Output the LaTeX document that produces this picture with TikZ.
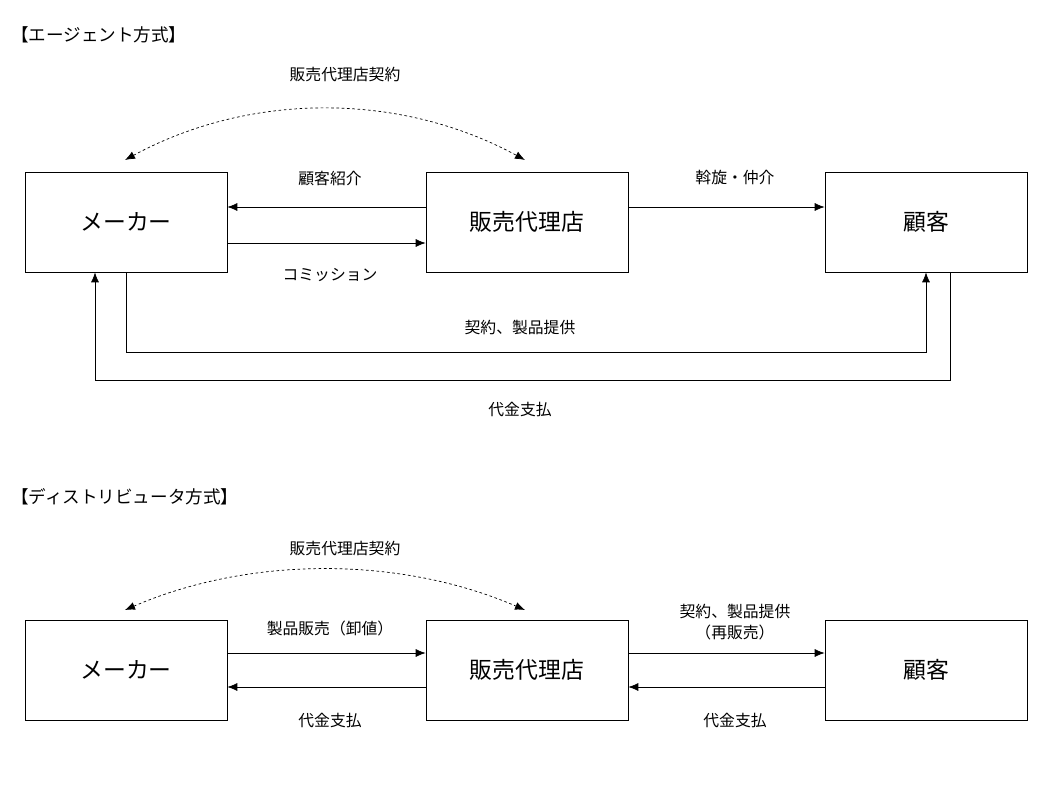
\documentclass[tikz,border=0pt]{standalone}
\usepackage{fontspec}
\setmainfont{Noto Sans CJK JP}
\usetikzlibrary{arrows.meta}
\begin{document}
\begin{tikzpicture}[x=0.02cm,y=-0.02cm,
    party/.style={draw,minimum width=4.04cm,minimum height=2cm,font=\fontsize{13}{15}\selectfont},
    flow/.style={-{Latex[length=2mm,width=1.6mm]}},
    deal/.style={dashed,dash pattern=on 1.5pt off 1.5pt,{Latex[length=2mm,width=1.6mm]}-{Latex[length=2mm,width=1.6mm]}},
    lbl/.style={font=\fontsize{9}{12}\selectfont,align=center},
    title/.style={font=\fontsize{10}{12}\selectfont,anchor=west}]
  \useasboundingbox (0,0) rectangle (1059,788);
  % agent
  \node[title] at (5,35) {【エージェント方式】};
  \node[party] (maker) at (126,222) {メーカー};
  \node[party] (agent) at (527,222) {販売代理店};
  \node[party] (cust) at (926,222) {顧客};
  \draw[deal] (125,160) .. controls (250,92) and (400,92) .. (525,160);
  \node[lbl] at (345,75) {販売代理店契約};
  \draw[flow] (agent.west |- 0,207) -- (maker.east |- 0,207);
  \node[lbl] at (330,178) {顧客紹介};
  \draw[flow] (maker.east |- 0,243) -- (agent.west |- 0,243);
  \node[lbl] at (330,275) {コミッション};
  \draw[flow] (agent.east |- 0,207) -- (cust.west |- 0,207);
  \node[lbl] at (735,178) {斡旋・仲介};
  \draw[flow] (maker.south) -- (126,352) -| (cust.south);
  \node[lbl] at (520,327) {契約、製品提供};
  \draw[flow] (cust.south -| 950,0) -- (950,380) -- (95,380) -- (maker.south -| 95,0);
  \node[lbl] at (520,410) {代金支払};
  % distributor
  \node[title] at (5,497) {【ディストリビュータ方式】};
  \node[party] (maker2) at (126,670) {メーカー};
  \node[party] (dist) at (527,670) {販売代理店};
  \node[party] (cust2) at (926,670) {顧客};
  \draw[deal] (125,610) .. controls (250,556) and (400,556) .. (525,610);
  \node[lbl] at (345,549) {販売代理店契約};
  \draw[flow] (maker2.east |- 0,653) -- (dist.west |- 0,653);
  \node[lbl] at (330,628) {製品販売（卸値）};
  \draw[flow] (dist.west |- 0,687) -- (maker2.east |- 0,687);
  \node[lbl] at (330,720) {代金支払};
  \draw[flow] (dist.east |- 0,653) -- (cust2.west |- 0,653);
  \node[lbl] at (735,622) {契約、製品提供\\（再販売）};
  \draw[flow] (cust2.west |- 0,687) -- (dist.east |- 0,687);
  \node[lbl] at (735,720) {代金支払};
\end{tikzpicture}
\end{document}
